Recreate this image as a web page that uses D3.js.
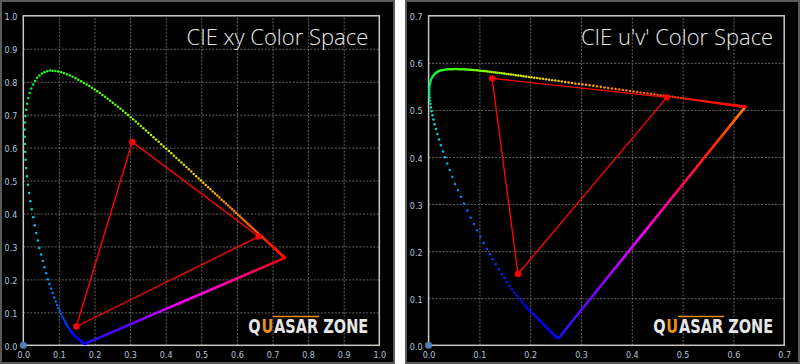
<!DOCTYPE html>
<html>
<head>
<meta charset="utf-8">
<script src="https://cdn.jsdelivr.net/npm/d3@7"></script>
<style>
body { margin: 0; background: #fff; }
svg { display: block; }
</style>
</head>
<body>
<div id="chart"></div>
<script>
// CIE 1931 spectral locus, 1 nm steps from 380 to 700 nm
const wavelengths = d3.range(380, 701);
const locusX = [
.1741,.1741,.1741,.1741,.1740,.1740,.1740,.1739,.1739,.1738,
.1738,.1738,.1737,.1737,.1736,.1736,.1735,.1735,.1734,.1734,
.1733,.1732,.1732,.1731,.1731,.1730,.1729,.1728,.1728,.1727,
.1726,.1725,.1724,.1723,.1722,.1721,.1720,.1719,.1717,.1716,
.1714,.1712,.1710,.1708,.1706,.1703,.1700,.1698,.1695,.1692,
.1689,.1685,.1681,.1677,.1673,.1669,.1664,.1659,.1654,.1649,
.1644,.1638,.1631,.1625,.1618,.1611,.1603,.1594,.1585,.1576,
.1566,.1556,.1545,.1534,.1522,.1510,.1497,.1483,.1469,.1455,
.1440,.1424,.1408,.1391,.1373,.1355,.1334,.1312,.1289,.1265,
.1241,.1214,.1186,.1157,.1127,.1096,.1063,.1028,.0991,.0953,
.0913,.0870,.0826,.0781,.0735,.0687,.0640,.0593,.0547,.0500,
.0454,.0408,.0363,.0319,.0276,.0235,.0196,.0162,.0132,.0105,
.0082,.0064,.0052,.0044,.0040,.0039,.0047,.0062,.0083,.0109,
.0139,.0179,.0225,.0276,.0331,.0389,.0453,.0522,.0594,.0668,
.0743,.0822,.0902,.0982,.1062,.1142,.1223,.1304,.1385,.1466,
.1547,.1625,.1702,.1778,.1854,.1929,.2003,.2077,.2150,.2223,
.2296,.2368,.2440,.2513,.2585,.2658,.2729,.2801,.2873,.2944,
.3016,.3087,.3159,.3230,.3302,.3373,.3444,.3516,.3588,.3659,
.3731,.3802,.3873,.3944,.4015,.4087,.4158,.4229,.4300,.4371,
.4441,.4511,.4581,.4650,.4719,.4788,.4856,.4924,.4991,.5058,
.5125,.5191,.5256,.5320,.5384,.5448,.5510,.5571,.5632,.5692,
.5752,.5810,.5867,.5922,.5976,.6029,.6080,.6129,.6177,.6224,
.6270,.6314,.6357,.6399,.6441,.6482,.6519,.6555,.6590,.6624,
.6658,.6688,.6717,.6745,.6773,.6801,.6825,.6848,.6871,.6893,
.6915,.6934,.6952,.6970,.6988,.7006,.7021,.7036,.7051,.7065,
.7079,.7092,.7104,.7116,.7128,.7140,.7150,.7160,.7170,.7180,
.7190,.7198,.7206,.7214,.7222,.7230,.7236,.7242,.7248,.7254,
.7260,.7265,.7269,.7274,.7278,.7283,.7286,.7290,.7293,.7297,
.7300,.7302,.7304,.7307,.7309,.7311,.7313,.7315,.7316,.7318,
.7320,.7321,.7323,.7324,.7326,.7327,.7328,.7330,.7331,.7333,
.7334,.7335,.7336,.7338,.7339,.7340,.7341,.7342,.7342,.7343,
.7344,.7344,.7345,.7345,.7346,.7346,.7346,.7346,.7347,.7347,
.7347];
const locusY = [
.0050,.0050,.0050,.0050,.0050,.0050,.0050,.0049,.0049,.0049,
.0049,.0049,.0049,.0049,.0049,.0049,.0049,.0049,.0048,.0048,
.0048,.0048,.0048,.0048,.0048,.0048,.0048,.0048,.0048,.0048,
.0048,.0048,.0048,.0048,.0048,.0048,.0049,.0049,.0050,.0050,
.0051,.0052,.0053,.0055,.0056,.0058,.0060,.0062,.0064,.0066,
.0069,.0072,.0075,.0079,.0082,.0086,.0090,.0095,.0099,.0104,
.0109,.0115,.0120,.0126,.0132,.0138,.0145,.0153,.0160,.0168,
.0177,.0186,.0196,.0206,.0216,.0227,.0240,.0253,.0267,.0281,
.0297,.0315,.0334,.0355,.0376,.0399,.0430,.0464,.0500,.0538,
.0578,.0630,.0685,.0744,.0804,.0868,.0948,.1035,.1128,.1224,
.1327,.1453,.1584,.1721,.1862,.2007,.2185,.2370,.2559,.2752,
.2950,.3178,.3411,.3647,.3885,.4127,.4374,.4624,.4876,.5129,
.5384,.5634,.5874,.6106,.6330,.6548,.6758,.6958,.7148,.7330,
.7502,.7657,.7794,.7915,.8022,.8120,.8190,.8246,.8289,.8319,
.8338,.8336,.8326,.8309,.8287,.8262,.8229,.8191,.8149,.8105,
.8059,.8012,.7964,.7915,.7866,.7816,.7763,.7709,.7654,.7599,
.7543,.7484,.7424,.7364,.7304,.7243,.7180,.7116,.7052,.6988,
.6923,.6857,.6790,.6723,.6656,.6589,.6521,.6452,.6383,.6314,
.6245,.6175,.6105,.6035,.5965,.5896,.5826,.5756,.5686,.5616,
.5547,.5478,.5409,.5340,.5271,.5202,.5134,.5066,.4999,.4932,
.4866,.4800,.4735,.4671,.4607,.4544,.4482,.4421,.4361,.4301,
.4242,.4184,.4127,.4072,.4018,.3965,.3914,.3865,.3817,.3770,
.3725,.3681,.3638,.3596,.3554,.3514,.3477,.3442,.3407,.3373,
.3340,.3310,.3281,.3253,.3225,.3197,.3173,.3150,.3127,.3105,
.3083,.3064,.3046,.3028,.3010,.2993,.2978,.2963,.2948,.2934,
.2920,.2907,.2895,.2883,.2871,.2859,.2849,.2839,.2829,.2819,
.2809,.2801,.2793,.2785,.2777,.2770,.2764,.2758,.2752,.2746,
.2740,.2735,.2731,.2726,.2722,.2717,.2714,.2710,.2707,.2703,
.2700,.2698,.2696,.2693,.2691,.2689,.2687,.2685,.2684,.2682,
.2680,.2679,.2677,.2676,.2674,.2673,.2672,.2670,.2669,.2667,
.2666,.2665,.2664,.2662,.2661,.2660,.2659,.2658,.2658,.2657,
.2656,.2656,.2655,.2655,.2654,.2654,.2654,.2654,.2653,.2653,
.2653];

// measured gamut (R, G, B) in xy
const primX = [0.661, 0.306, 0.149];
const primY = [0.330, 0.617, 0.057];

const xyTicks = [0, 0.1, 0.2, 0.3, 0.4, 0.5, 0.6, 0.7, 0.8, 0.9, 1.0];
const uvTicks = [0, 0.1, 0.2, 0.3, 0.4, 0.5, 0.6, 0.7];
const titles = ["CIE xy Color Space", "CIE u'v' Color Space"];
const logoParts = ["Q", "U", "ASAR ZONE"];
const logoColors = ["#e6e6e6", "#e8901c", "#e6e6e6"];

// spectrum colours for the locus dots
const specNm = [380, 460, 470, 480, 490, 497, 503, 510, 520, 545, 565, 580, 600, 620, 700];
const specCol = ["#1010ff", "#0000ff", "#0028ff", "#0070ff", "#00c0f0", "#00e0c8", "#00e888", "#00f040",
                 "#20ff20", "#70ff00", "#d8f000", "#ffc000", "#ff7000", "#ff1800", "#ff0000"];
const specColor = d3.scaleLinear().domain(specNm).range(specCol);

const W = 800, H = 364;
const frameTop = 15.8, frameBottom = 345.3;
const labelColor = "#b0c4dc";
const fmt = d3.format(".1f");

const svg = d3.select("#chart").append("svg")
    .attr("width", W)
    .attr("height", H);

const locus = wavelengths.map((w, i) => ({w: w, x: locusX[i], y: locusY[i]}));
const prims = primX.map((x, i) => ({x: x, y: primY[i]}));

function toUV(d) {
    const den = -2 * d.x + 12 * d.y + 3;
    return {w: d.w, x: 4 * d.x / den, y: 9 * d.y / den};
}

function drawPanel(p) {
    const g = svg.append("g");

    g.append("rect")
        .attr("x", p.px0 + 1).attr("y", 1)
        .attr("width", p.px1 - p.px0 - 2).attr("height", H - 2)
        .attr("fill", "#000")
        .attr("stroke", "#5a5a5a")
        .attr("stroke-width", 2);

    const x = d3.scaleLinear().domain([0, p.max]).range([p.left, p.right]);
    const y = d3.scaleLinear().domain([0, p.max]).range([frameBottom, frameTop]);

    // grid
    g.append("g")
        .attr("transform", `translate(0,${frameBottom})`)
        .call(d3.axisBottom(x).tickValues(p.ticks.slice(1, -1)).tickSize(-(frameBottom - frameTop)).tickFormat(""))
        .call(a => a.select(".domain").remove())
        .selectAll("line")
        .attr("stroke", "#646464").attr("stroke-dasharray", "2,1.5");
    g.append("g")
        .attr("transform", `translate(${p.left},0)`)
        .call(d3.axisLeft(y).tickValues(p.ticks.slice(1, -1)).tickSize(-(p.right - p.left)).tickFormat(""))
        .call(a => a.select(".domain").remove())
        .selectAll("line")
        .attr("stroke", "#646464").attr("stroke-dasharray", "2,1.5");

    // tick labels
    const ax = g.append("g")
        .attr("transform", `translate(0,${frameBottom})`)
        .call(d3.axisBottom(x).tickValues(p.ticks).tickFormat(fmt).tickSize(0).tickPadding(7));
    ax.select(".domain").remove();
    ax.attr("font-family", "DejaVu Sans").attr("font-size", 8);
    ax.selectAll("text").attr("fill", labelColor);

    const ay = g.append("g")
        .attr("transform", `translate(${p.left},0)`)
        .call(d3.axisLeft(y).tickValues(p.ticks).tickFormat(fmt).tickSize(0).tickPadding(6));
    ay.select(".domain").remove();
    ay.attr("font-family", "DejaVu Sans").attr("font-size", 8);
    ay.selectAll("text").attr("fill", labelColor).attr("dy", "0.5em");

    // frame
    g.append("rect")
        .attr("x", p.left).attr("y", frameTop)
        .attr("width", p.right - p.left).attr("height", frameBottom - frameTop)
        .attr("fill", "none")
        .attr("stroke", "#c8c8c8")
        .attr("stroke-width", 1.5);

    // title
    g.append("text")
        .attr("x", p.right - 11).attr("y", 45)
        .attr("text-anchor", "end")
        .attr("font-family", "Open Sans")
        .attr("font-weight", 300)
        .attr("font-size", 22)
        .attr("fill", "#e8e8e8")
        .text(p.title);

    const pts = p.conv ? locus.map(toUV) : locus;
    const gam = p.conv ? prims.map(toUV) : prims;

    // line of purples
    const first = pts[0], last = pts[pts.length - 1];
    const grad = svg.append("defs").append("linearGradient")
        .attr("id", p.id + "grad")
        .attr("gradientUnits", "userSpaceOnUse")
        .attr("x1", x(first.x)).attr("y1", y(first.y))
        .attr("x2", x(last.x)).attr("y2", y(last.y));
    grad.selectAll("stop").data(p.stops).join("stop")
        .attr("offset", d => d[0])
        .attr("stop-color", d => d[1]);
    g.append("line")
        .attr("x1", x(first.x)).attr("y1", y(first.y))
        .attr("x2", x(last.x)).attr("y2", y(last.y))
        .attr("stroke", `url(#${p.id}grad)`)
        .attr("stroke-width", 2.6);

    // spectral locus dots
    g.append("g").selectAll("circle")
        .data(pts)
        .join("circle")
        .attr("cx", d => x(d.x))
        .attr("cy", d => y(d.y))
        .attr("r", 1.25)
        .attr("fill", d => specColor(d.w));

    // gamut triangle
    g.append("path")
        .datum(gam)
        .attr("d", d3.line().x(d => x(d.x)).y(d => y(d.y)).curve(d3.curveLinearClosed))
        .attr("fill", "none")
        .attr("stroke", "#ff0000")
        .attr("stroke-width", 1.4);
    g.append("g").selectAll("circle")
        .data(gam)
        .join("circle")
        .attr("cx", d => x(d.x))
        .attr("cy", d => y(d.y))
        .attr("r", 3.2)
        .attr("fill", "#ff0000");

    // origin marker
    g.append("circle")
        .attr("cx", x(0)).attr("cy", y(0))
        .attr("r", 3.5)
        .attr("fill", "#4f7fb5");

    // logo: pieces laid side by side, then the group squeezed to 120px wide
    const lx = p.right - 131;
    const lg = g.append("g");
    let cx = 0, uEnd = 0;
    logoParts.forEach((t, i) => {
        const el = lg.append("text")
            .attr("x", cx).attr("y", 0)
            .attr("font-family", "DejaVu Sans Condensed, DejaVu Sans")
            .attr("font-weight", "bold")
            .attr("font-size", 20)
            .attr("fill", logoColors[i])
            .text(t);
        cx += el.node().getComputedTextLength() + 1;
        if (i === 1) uEnd = cx;
    });
    const sx = 120 / (cx - 1);
    lg.attr("transform", `translate(${lx},333) scale(${sx},1)`);
    g.append("line")
        .attr("x1", lx + uEnd * sx - 1).attr("x2", lx + uEnd * sx + 45)
        .attr("y1", 316.5).attr("y2", 316.5)
        .attr("stroke", "#e8901c")
        .attr("stroke-width", 1.5);
}

drawPanel({
    id: "xy", px0: 0, px1: 395, left: 23.3, right: 379.3, max: 1.0,
    ticks: xyTicks, title: titles[0], conv: false,
    stops: [[0, "#2010ff"], [0.22, "#6000ff"], [0.48, "#ff00ff"], [0.75, "#ff0090"], [1, "#ff0000"]]
});
drawPanel({
    id: "uv", px0: 405, px1: 800, left: 428.6, right: 784.2, max: 0.7,
    ticks: uvTicks, title: titles[1], conv: true,
    stops: [[0, "#2010ff"], [0.2, "#8000ff"], [0.45, "#ff00ff"], [0.65, "#ff0060"], [0.82, "#ff2800"], [1, "#ff8000"]]
});
</script>
</body>
</html>
